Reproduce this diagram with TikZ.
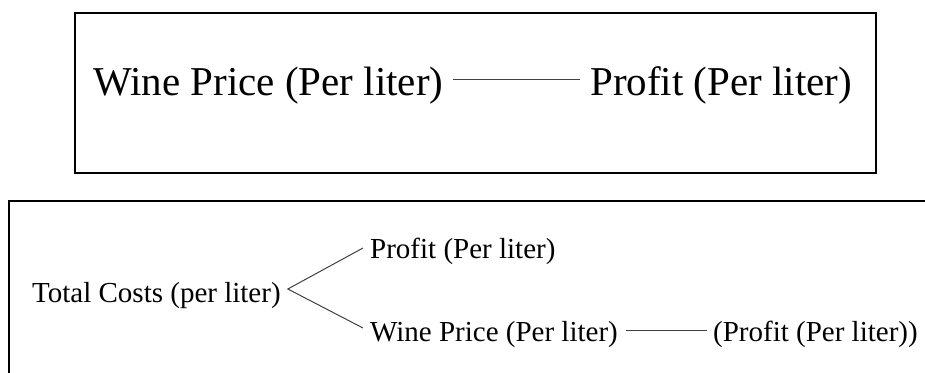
\documentclass[tikz,border=0pt]{standalone}
\usepackage{fontspec}
\setmainfont{Liberation Serif}
\begin{document}
\begin{tikzpicture}[x=1pt,y=-1pt,
  big/.style={font=\fontsize{41}{48}\selectfont, inner sep=0pt, anchor=base west},
  small/.style={font=\fontsize{29}{34}\selectfont, inner sep=0pt, anchor=base west},
  frame/.style={draw=black, line width=2pt},
  link/.style={draw=black!75, line width=1pt}]
\useasboundingbox (0,0) rectangle (925,372);
\clip (0,0) rectangle (925,372);

% upper panel
\draw[frame] (75,13) rectangle (876,173);
\node[big] (wp) at (93,95) {Wine Price (Per liter)};
\node[big] (pr) at (590,95) {Profit (Per liter)};
\draw[link] ([xshift=9pt,yshift=16pt]wp.base east) -- ([xshift=-10pt,yshift=16pt]pr.base west);

% lower panel
\draw[frame] (9,201) rectangle (945,395);
\node[small] (tc) at (32,302) {Total Costs (per liter)};
\node[small] (pf) at (370,258) {Profit (Per liter)};
\node[small] (wl) at (370,341) {Wine Price (Per liter)};
\node[small] (pp) at (713,341) {(Profit (Per liter))};
\coordinate (fork) at ([xshift=7pt,yshift=13pt]tc.base east);
\draw[link] ([xshift=-7pt,yshift=10pt]pf.base west) -- (fork) -- ([xshift=-7pt,yshift=13pt]wl.base west);
\draw[link] ([xshift=8pt,yshift=11pt]wl.base east) -- ([xshift=-6pt,yshift=11pt]pp.base west);
\end{tikzpicture}
\end{document}
